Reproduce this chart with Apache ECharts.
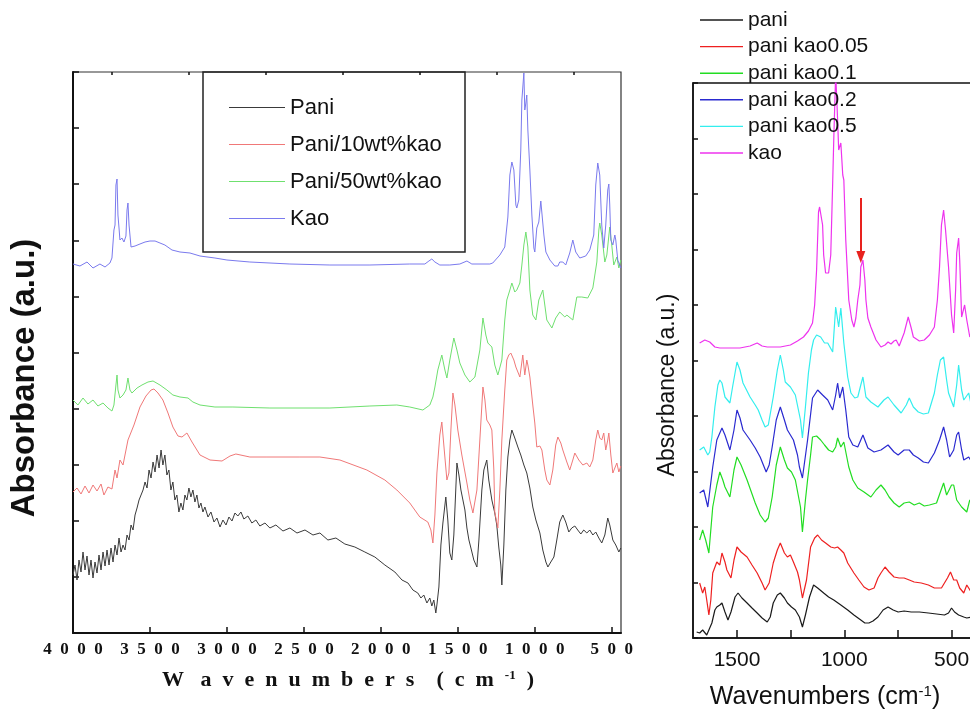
<!DOCTYPE html>
<html>
<head>
<meta charset="utf-8">
<title>FTIR spectra</title>
<script src="https://cdn.jsdelivr.net/npm/echarts@6/dist/echarts.min.js"></script>
<style>
  html, body { margin: 0; padding: 0; background: #fff; }
  #chart { width: 970px; height: 713px; }
</style>
</head>
<body>
<div id="chart"></div>
<script>
// wavenumber (cm-1), absorbance (arbitrary units, offset stacked)
const leftKao = [[4000,369],[3955,367],[3909,371],[3870,365],[3825,369],[3792,366],[3760,370],[3747,375],[3734,403],[3727,408],[3721,448],[3714,454],[3708,418],[3701,405],[3695,393],[3682,395],[3669,391],[3656,397],[3649,423],[3643,430],[3636,408],[3623,386],[3597,387],[3565,389],[3532,391],[3500,392],[3467,392],[3435,390],[3403,388],[3357,383],[3305,381],[3240,380],[3175,377],[3078,375],[3000,373],[2851,371],[2591,369],[2331,368],[2071,368],[1812,369],[1714,369],[1688,372],[1669,374],[1649,371],[1617,368],[1552,368],[1487,369],[1441,372],[1409,369],[1292,369],[1273,370],[1227,378],[1195,386],[1175,416],[1162,458],[1149,471],[1136,463],[1123,428],[1117,425],[1104,433],[1091,483],[1084,533],[1071,560],[1065,523],[1058,530],[1052,538],[1045,503],[1032,463],[1019,418],[1006,385],[1000,381],[987,405],[974,411],[961,432],[954,433],[941,398],[928,381],[902,373],[870,367],[850,367],[838,371],[818,371],[799,368],[773,380],[753,393],[734,381],[708,375],[669,377],[643,383],[617,398],[604,448],[591,470],[578,458],[565,408],[552,385],[539,408],[526,443],[519,449],[513,428],[506,393],[493,388],[480,398],[474,393],[461,373],[441,365]];

const leftPani50 = [[4000,233],[3968,228],[3935,235],[3903,229],[3870,233],[3838,227],[3805,230],[3773,225],[3747,222],[3734,228],[3721,248],[3714,258],[3708,243],[3695,235],[3675,238],[3656,243],[3643,255],[3630,243],[3617,240],[3584,245],[3552,248],[3513,251],[3480,252],[3435,248],[3390,243],[3351,238],[3305,236],[3253,235],[3221,231],[3175,228],[3078,226],[2961,226],[2721,225],[2331,225],[2071,227],[1896,228],[1812,226],[1727,223],[1682,228],[1662,236],[1649,246],[1630,263],[1604,278],[1584,263],[1571,255],[1552,273],[1526,295],[1506,283],[1487,270],[1454,258],[1422,251],[1389,256],[1357,283],[1337,315],[1318,298],[1305,290],[1279,286],[1260,268],[1240,258],[1214,273],[1195,313],[1182,333],[1162,343],[1149,350],[1130,341],[1117,343],[1097,350],[1084,368],[1071,388],[1058,401],[1045,386],[1032,343],[1013,318],[993,313],[974,333],[948,343],[935,328],[922,313],[889,305],[864,315],[838,321],[805,316],[792,318],[753,313],[727,336],[695,336],[656,335],[623,345],[597,371],[584,403],[578,410],[565,398],[545,371],[532,378],[513,406],[500,388],[487,368],[467,376],[454,365],[441,373]];

const leftPani10 = [[4000,141],[3974,145],[3948,139],[3922,147],[3896,140],[3870,148],[3844,142],[3818,149],[3799,138],[3773,146],[3747,144],[3727,163],[3714,155],[3695,173],[3675,168],[3643,193],[3604,208],[3565,226],[3526,237],[3493,243],[3474,244],[3448,240],[3416,233],[3383,220],[3351,206],[3318,197],[3292,196],[3260,200],[3227,191],[3175,178],[3110,173],[3032,172],[2980,177],[2942,179],[2851,176],[2740,176],[2526,176],[2396,176],[2266,173],[2091,163],[1974,153],[1896,143],[1812,130],[1747,116],[1695,111],[1675,103],[1662,90],[1649,118],[1636,160],[1617,198],[1604,211],[1591,188],[1571,153],[1558,160],[1545,203],[1532,240],[1519,228],[1500,203],[1474,178],[1441,150],[1422,133],[1402,120],[1376,143],[1357,193],[1337,246],[1324,233],[1312,213],[1292,208],[1279,203],[1266,163],[1260,121],[1240,105],[1227,143],[1214,193],[1195,243],[1182,273],[1169,278],[1156,280],[1136,273],[1123,266],[1110,261],[1097,256],[1084,271],[1078,278],[1065,258],[1052,273],[1045,268],[1032,256],[1013,228],[1000,210],[987,186],[967,187],[954,183],[935,163],[922,153],[902,148],[883,163],[864,188],[850,196],[831,190],[818,183],[792,171],[773,163],[753,173],[740,180],[714,173],[688,168],[662,170],[643,166],[623,173],[604,193],[591,203],[578,195],[565,193],[552,200],[539,183],[526,193],[519,200],[506,178],[493,160],[480,165],[467,170],[454,161],[441,167]];

const leftPani = [[4000,58],[3987,68],[3974,53],[3961,73],[3948,61],[3935,81],[3922,63],[3909,77],[3896,58],[3883,73],[3870,55],[3857,71],[3844,60],[3831,78],[3818,63],[3805,81],[3792,67],[3779,83],[3766,68],[3753,85],[3740,71],[3727,88],[3714,78],[3701,95],[3688,81],[3675,88],[3662,83],[3649,98],[3636,93],[3623,108],[3610,103],[3597,118],[3584,125],[3571,133],[3558,138],[3545,143],[3532,151],[3519,145],[3506,163],[3493,155],[3480,171],[3467,161],[3454,178],[3441,165],[3428,183],[3416,168],[3403,178],[3390,158],[3377,163],[3364,143],[3351,151],[3338,133],[3325,138],[3312,121],[3299,130],[3286,123],[3273,138],[3260,133],[3247,145],[3234,136],[3221,143],[3208,131],[3195,138],[3182,125],[3169,130],[3156,121],[3143,126],[3123,116],[3104,121],[3084,111],[3065,115],[3045,106],[3026,113],[3006,108],[2987,116],[2967,112],[2948,120],[2929,117],[2909,121],[2890,114],[2864,117],[2838,110],[2812,113],[2786,107],[2753,110],[2721,105],[2682,108],[2636,102],[2591,105],[2545,100],[2493,103],[2441,98],[2396,100],[2344,93],[2292,95],[2234,89],[2169,86],[2104,81],[2039,76],[1974,68],[1909,61],[1863,53],[1824,50],[1792,43],[1760,40],[1740,35],[1721,38],[1701,30],[1682,35],[1669,27],[1656,33],[1643,20],[1636,28],[1623,46],[1610,88],[1597,110],[1578,136],[1565,113],[1552,80],[1539,73],[1526,98],[1506,170],[1493,158],[1480,143],[1467,133],[1454,123],[1441,105],[1428,93],[1415,85],[1396,73],[1376,66],[1363,93],[1344,143],[1331,163],[1312,173],[1299,153],[1279,133],[1260,120],[1247,108],[1234,86],[1221,68],[1214,48],[1201,88],[1188,143],[1175,176],[1162,193],[1149,203],[1130,195],[1110,186],[1091,178],[1071,168],[1052,160],[1032,145],[1013,126],[993,113],[967,100],[948,83],[928,71],[915,66],[896,71],[876,76],[857,93],[838,111],[818,118],[799,111],[779,101],[760,105],[740,107],[721,103],[701,99],[682,103],[662,100],[643,103],[623,98],[604,101],[584,95],[565,90],[545,98],[526,115],[513,108],[493,93],[474,88],[454,81],[441,85]];

const rightKao = [[1674,295],[1650,298],[1627,296],[1603,291],[1580,290],[1533,290],[1486,290],[1439,292],[1406,295],[1383,292],[1359,291],[1298,291],[1251,293],[1218,297],[1190,301],[1167,307],[1148,315],[1138,333],[1129,368],[1120,426],[1115,431],[1106,430],[1101,413],[1096,383],[1087,365],[1073,365],[1063,383],[1054,455],[1049,498],[1040,565],[1031,518],[1026,488],[1016,495],[1007,463],[1002,458],[993,398],[979,338],[965,318],[955,311],[946,320],[937,338],[927,353],[923,371],[913,378],[904,358],[899,338],[890,320],[876,311],[852,298],[829,291],[810,293],[796,296],[782,294],[768,297],[758,298],[744,292],[735,293],[721,305],[702,321],[688,310],[678,301],[650,297],[627,298],[603,303],[580,311],[566,338],[556,371],[547,413],[537,428],[528,408],[514,371],[500,323],[490,305],[481,348],[476,385],[467,400],[462,378],[453,321],[448,323],[439,333],[429,318],[415,301],[406,308]];

const rightKao05 = [[1674,188],[1655,191],[1636,183],[1627,186],[1617,201],[1603,231],[1589,253],[1580,258],[1570,255],[1556,241],[1533,235],[1519,253],[1500,276],[1486,268],[1472,255],[1439,241],[1415,233],[1401,228],[1383,218],[1369,211],[1354,213],[1331,241],[1312,268],[1298,283],[1284,268],[1275,256],[1251,251],[1228,243],[1204,218],[1195,200],[1181,231],[1167,265],[1153,288],[1143,298],[1129,303],[1110,301],[1092,295],[1077,295],[1054,286],[1040,331],[1026,311],[1016,330],[1002,295],[984,261],[969,245],[951,240],[937,241],[923,253],[913,261],[899,241],[876,236],[843,231],[815,238],[796,241],[768,233],[735,225],[711,233],[697,240],[678,231],[655,226],[631,224],[608,225],[580,245],[566,263],[552,278],[537,281],[523,258],[514,245],[490,231],[476,253],[467,273],[453,248],[443,238],[420,245],[406,231]];

const rightKao02 = [[1674,145],[1655,148],[1636,131],[1613,171],[1594,198],[1570,210],[1556,203],[1533,188],[1514,208],[1500,228],[1486,220],[1472,208],[1439,198],[1415,190],[1392,181],[1364,166],[1350,173],[1336,191],[1317,218],[1298,231],[1279,218],[1265,208],[1237,198],[1218,183],[1209,171],[1195,160],[1171,198],[1148,240],[1124,248],[1101,243],[1077,238],[1054,228],[1040,243],[1031,255],[1021,240],[1007,251],[993,228],[979,201],[960,193],[937,191],[913,203],[890,190],[861,186],[829,188],[796,193],[768,186],[749,183],[721,188],[697,188],[678,183],[655,180],[631,176],[608,175],[580,185],[556,198],[537,211],[523,198],[509,181],[490,188],[476,203],[467,206],[453,188],[443,178],[420,181],[406,176]];

const rightKao01 = [[1674,98],[1660,108],[1646,98],[1631,85],[1613,131],[1594,153],[1580,166],[1566,158],[1556,151],[1533,141],[1514,168],[1500,181],[1481,173],[1453,158],[1415,135],[1392,123],[1369,116],[1354,120],[1336,141],[1317,173],[1298,191],[1279,178],[1265,170],[1246,166],[1228,158],[1204,131],[1195,106],[1181,138],[1171,158],[1157,183],[1148,201],[1129,202],[1110,198],[1092,193],[1073,188],[1054,186],[1040,191],[1031,200],[1016,191],[1002,196],[979,171],[960,158],[937,150],[908,146],[876,141],[852,148],[829,153],[810,148],[791,141],[768,135],[744,131],[721,135],[697,136],[674,133],[650,135],[627,132],[603,133],[570,135],[552,146],[537,155],[523,143],[514,145],[500,153],[490,153],[476,138],[453,131],[429,126],[415,138],[406,135]];

const rightKao005 = [[1674,55],[1660,45],[1650,51],[1641,38],[1631,23],[1622,38],[1613,65],[1594,76],[1580,73],[1570,85],[1556,76],[1547,68],[1528,60],[1514,78],[1500,91],[1481,86],[1453,81],[1430,73],[1406,65],[1383,55],[1369,48],[1350,55],[1331,75],[1312,88],[1298,95],[1279,85],[1265,81],[1251,83],[1237,76],[1218,66],[1209,58],[1195,40],[1176,58],[1157,91],[1138,100],[1124,103],[1106,98],[1087,95],[1063,91],[1045,90],[1031,91],[1016,88],[1002,85],[984,75],[955,65],[932,58],[908,51],[885,48],[861,50],[843,60],[829,65],[810,71],[791,66],[768,61],[744,60],[721,60],[697,58],[674,56],[641,55],[608,53],[580,50],[547,50],[519,60],[505,66],[490,58],[476,58],[462,50],[443,45],[429,53],[420,55],[406,45]];

const rightPani = [[1688,6],[1674,5],[1660,8],[1641,3],[1627,10],[1617,15],[1603,28],[1594,31],[1580,33],[1570,35],[1556,26],[1542,18],[1528,26],[1509,41],[1495,45],[1477,40],[1453,35],[1430,30],[1406,25],[1383,20],[1359,16],[1345,21],[1331,35],[1312,43],[1298,45],[1279,40],[1265,35],[1246,31],[1228,28],[1209,21],[1195,11],[1181,23],[1162,41],[1143,53],[1124,50],[1096,45],[1073,41],[1049,38],[1016,33],[984,28],[955,23],[923,18],[904,15],[885,15],[866,17],[843,21],[819,28],[796,31],[772,28],[749,26],[721,27],[688,26],[650,26],[608,25],[570,24],[533,23],[514,25],[500,30],[486,26],[467,23],[443,21],[429,20],[406,21]];

// axis ticks and labels
const leftMajorTicks = [500, 1000, 1500, 2000, 2500, 3000, 3500, 4000];
const leftMinorTicks = [750, 1250, 1750, 2250, 2750, 3250, 3750];
const rightTicks = [500, 750, 1000, 1250, 1500];
const rightLabels = [500, 1000, 1500];

// red arrow marking the kaolinite band
const arrowWave = 923;
const arrowFrom = 440;
const arrowTo = 381;

const chart = echarts.init(document.getElementById('chart'));

const serif = 'Liberation Serif';
const sans = 'Liberation Sans';

function leftLine(name, data, color) {
  return {
    name: name, type: 'line', data: data, xAxisIndex: 0, yAxisIndex: 0,
    symbol: 'none', lineStyle: { width: 1, color: color }, itemStyle: { color: color }
  };
}
function rightLine(name, data, color) {
  return {
    name: name, type: 'line', data: data, xAxisIndex: 2, yAxisIndex: 1,
    symbol: 'none', lineStyle: { width: 1.2, color: color }, itemStyle: { color: color }
  };
}

const kaoSeries = rightLine('kao', rightKao, '#ee33ee');
kaoSeries.markLine = {
  silent: true,
  symbol: ['none', 'triangle'],
  symbolSize: [9, 12],
  label: { show: false },
  lineStyle: { color: '#e8221e', width: 2, type: 'solid' },
  data: [[{ coord: [arrowWave, arrowFrom] }, { coord: [arrowWave, arrowTo] }]]
};

chart.setOption({
  animation: false,
  backgroundColor: '#fff',
  grid: [
    { left: 73, top: 72, width: 548, height: 561, show: true, borderColor: '#333', borderWidth: 1.2, outerBoundsMode: 'none' },
    { left: 693, top: 83, width: 280, height: 555, show: true, borderColor: '#111', borderWidth: 1.5, outerBoundsMode: 'none' }
  ],
  xAxis: [
    {
      gridIndex: 0, type: 'value', min: 440, max: 4000, inverse: true,
      axisLine: { lineStyle: { color: '#111', width: 2 } },
      axisTick: { inside: true, length: 6, customValues: leftMajorTicks, lineStyle: { color: '#111', width: 1.5 } },
      axisLabel: {
        customValues: leftMajorTicks, margin: 8, color: '#111',
        fontFamily: serif, fontWeight: 'bold', fontSize: 17,
        formatter: v => String(v).split('').join('  ')
      },
      splitLine: { show: false }
    },
    {
      gridIndex: 0, type: 'value', min: 440, max: 4000, inverse: true,
      axisLine: { show: false },
      axisTick: { inside: true, length: 3, customValues: leftMinorTicks, lineStyle: { color: '#111', width: 1.5 } },
      axisLabel: { show: false },
      splitLine: { show: false }
    },
    {
      gridIndex: 1, type: 'value', min: 400, max: 1705, inverse: true,
      axisLine: { lineStyle: { color: '#111', width: 1.5 } },
      axisTick: { inside: true, length: 8, customValues: rightTicks, lineStyle: { color: '#111', width: 1.5 } },
      axisLabel: {
        customValues: rightLabels, margin: 12, color: '#111', fontFamily: sans, fontSize: 21,
        formatter: v => String(v)
      },
      splitLine: { show: false }
    }
  ],
  yAxis: [
    {
      gridIndex: 0, type: 'value', min: 0, max: 561, interval: 56.1,
      axisLine: { show: true, lineStyle: { color: '#111', width: 2 } },
      axisTick: { show: true, inside: true, length: 6, lineStyle: { color: '#111', width: 1.5 } },
      axisLabel: { show: false },
      splitLine: { show: false }
    },
    {
      gridIndex: 1, type: 'value', min: 0, max: 555, interval: 55.5,
      axisLine: { show: true, lineStyle: { color: '#111', width: 1.5 } },
      axisTick: { show: true, inside: true, length: 5, lineStyle: { color: '#111', width: 1.5 } },
      axisLabel: { show: false },
      splitLine: { show: false }
    }
  ],
  legend: [
    {
      data: ['Pani', 'Pani/10wt%kao', 'Pani/50wt%kao', 'Kao'],
      orient: 'vertical', left: 229, top: 95, padding: 0,
      icon: 'rect', itemWidth: 56, itemHeight: 1.2, itemGap: 12,
      selectedMode: false,
      textStyle: { fontFamily: sans, fontSize: 22, color: '#111', lineHeight: 25 }
    },
    {
      data: ['pani', 'pani kao0.05', 'pani kao0.1', 'pani kao0.2', 'pani kao0.5', 'kao'],
      orient: 'vertical', left: 700, top: 9.5, padding: 0,
      icon: 'rect', itemWidth: 43, itemHeight: 1.4, itemGap: 5.6,
      selectedMode: false,
      textStyle: { fontFamily: sans, fontSize: 21, color: '#111', lineHeight: 21 }
    }
  ],
  graphic: [
    {
      type: 'rect', shape: { x: 203, y: 72, width: 262, height: 180 },
      style: { fill: null, stroke: '#222', lineWidth: 1.5 }, silent: true
    },
    {
      type: 'text', x: 25, y: 378, rotation: Math.PI / 2,
      style: {
        text: 'Absorbance (a.u.)', fill: '#111', align: 'center', verticalAlign: 'middle',
        font: 'bold 33px "Liberation Sans"'
      }
    },
    {
      type: 'text', x: 348, y: 680,
      style: {
        text: 'W   a  v  e  n  u  m  b  e  r  s    (  c  m  {sup|-1}  )',
        fill: '#111', align: 'center', verticalAlign: 'middle',
        font: 'bold 22px "Liberation Serif"',
        rich: { sup: { fontFamily: serif, fontWeight: 'bold', fontSize: 13, verticalAlign: 'top', fill: '#111' } }
      }
    },
    {
      type: 'text', x: 668, y: 385, rotation: Math.PI / 2,
      style: {
        text: 'Absorbance (a.u.)', fill: '#111', align: 'center', verticalAlign: 'middle',
        font: '23px "Liberation Sans"'
      }
    },
    {
      type: 'text', x: 825, y: 697,
      style: {
        text: 'Wavenumbers (cm{sup|-1})', fill: '#111', align: 'center', verticalAlign: 'middle',
        font: '25px "Liberation Sans"',
        rich: { sup: { fontFamily: sans, fontSize: 15, verticalAlign: 'top', fill: '#111' } }
      }
    }
  ],
  series: [
    leftLine('Pani', leftPani, '#3a3a3a'),
    leftLine('Pani/10wt%kao', leftPani10, '#f07878'),
    leftLine('Pani/50wt%kao', leftPani50, '#6fe06f'),
    leftLine('Kao', leftKao, '#7a7aee'),
    rightLine('pani', rightPani, '#1a1a1a'),
    rightLine('pani kao0.05', rightKao005, '#ee2020'),
    rightLine('pani kao0.1', rightKao01, '#22dd22'),
    rightLine('pani kao0.2', rightKao02, '#2a2ad0'),
    rightLine('pani kao0.5', rightKao05, '#33eeee'),
    kaoSeries
  ]
});
</script>
</body>
</html>
